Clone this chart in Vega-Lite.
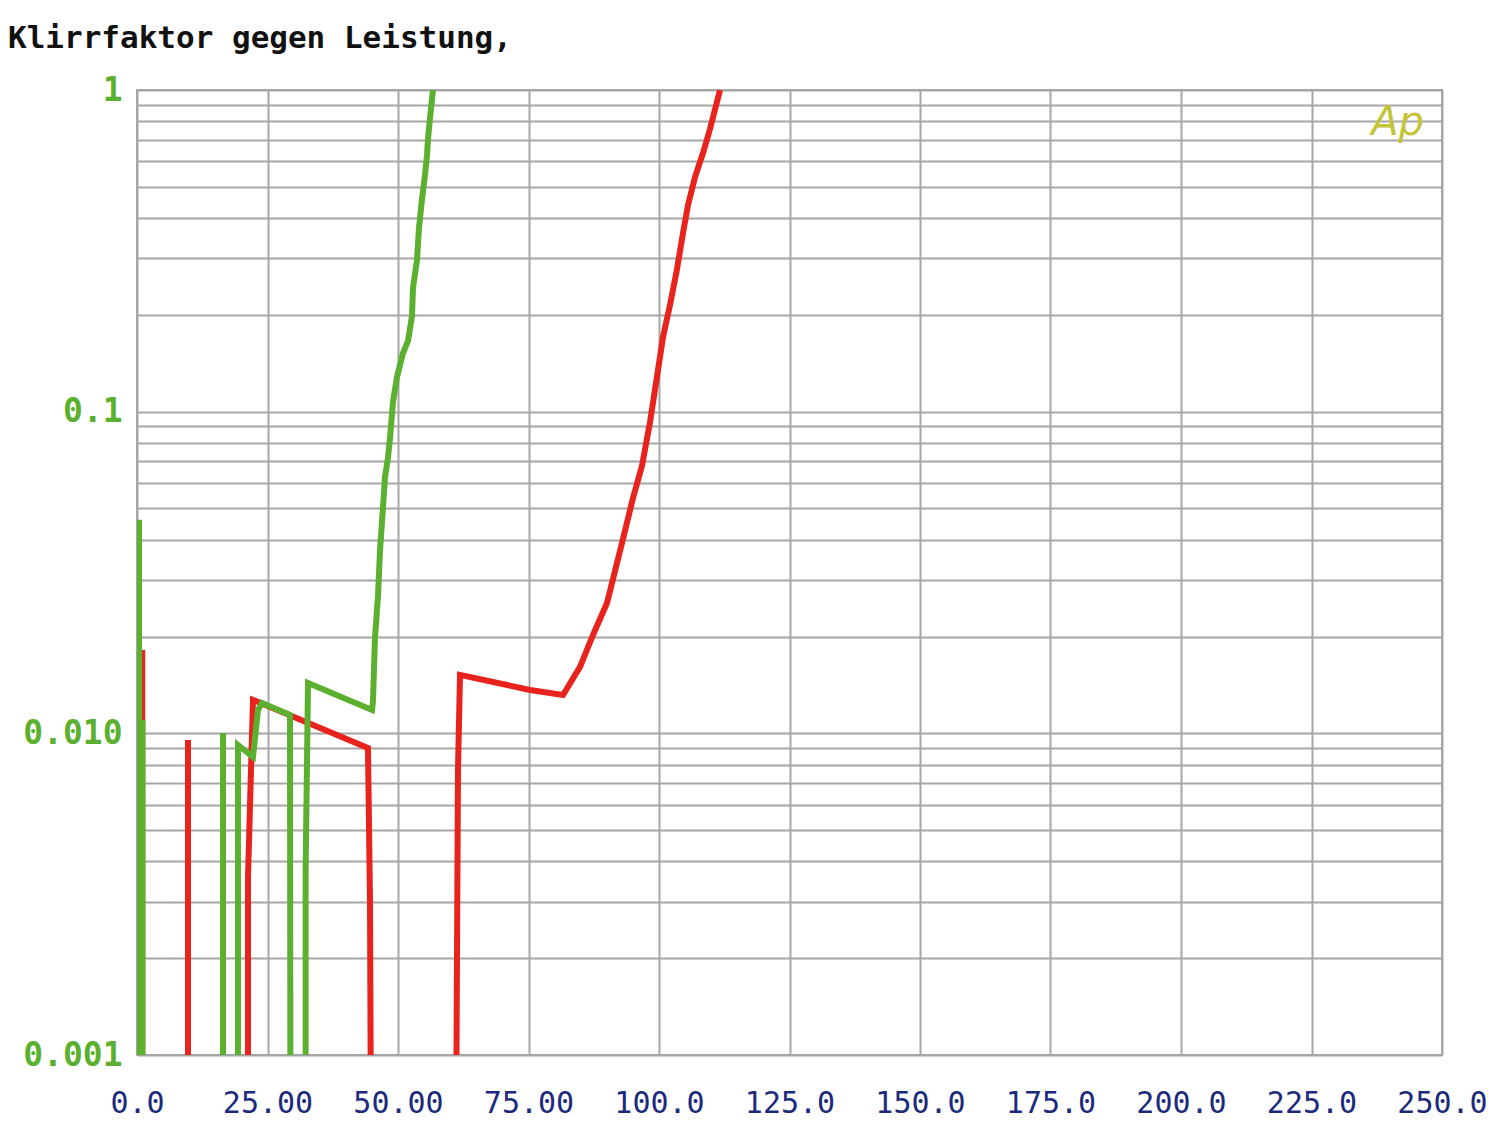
{
  "$schema": "https://vega.github.io/schema/vega-lite/v6.json",
  "width": 1305,
  "height": 965,
  "autosize": {"type": "none"},
  "padding": {"left": 137, "top": 90, "right": 58, "bottom": 70},
  "background": "white",
  "title": {
    "text": "Klirrfaktor gegen Leistung,",
    "anchor": "start",
    "frame": "group",
    "dx": -129,
    "dy": 45,
    "offset": 40,
    "baseline": "alphabetic",
    "font": "DejaVu Sans Mono",
    "fontSize": 31,
    "fontWeight": "bold",
    "color": "#111111"
  },
  "config": {
    "view": {"stroke": "#a6a6a6", "strokeWidth": 2},
    "axis": {"gridColor": "#a6a6a6", "gridWidth": 2, "gridOpacity": 1, "domain": false, "ticks": false, "tickSize": 0, "title": null}
  },
  "datasets": {
    "curves": [
      {"s": "red", "i": 0, "x": 1.0, "y": 0.01816},
      {"s": "red", "i": 1, "x": 1.0, "y": 0.0005},
      {"s": "red", "i": 2, "x": 9.77, "y": 0.0005},
      {"s": "red", "i": 3, "x": 9.77, "y": 0.00954},
      {"s": "red", "i": 4, "x": 9.77, "y": 0.0005},
      {"s": "red", "i": 5, "x": 21.26, "y": 0.0005},
      {"s": "red", "i": 6, "x": 21.26, "y": 0.00355},
      {"s": "red", "i": 7, "x": 22.22, "y": 0.0127},
      {"s": "red", "i": 8, "x": 44.25, "y": 0.00901},
      {"s": "red", "i": 9, "x": 44.64, "y": 0.00297},
      {"s": "red", "i": 10, "x": 44.83, "y": 0.0005},
      {"s": "red", "i": 11, "x": 61.1, "y": 0.0005},
      {"s": "red", "i": 12, "x": 61.3, "y": 0.001975},
      {"s": "red", "i": 13, "x": 61.49, "y": 0.00769},
      {"s": "red", "i": 14, "x": 61.88, "y": 0.0152},
      {"s": "red", "i": 15, "x": 75.29, "y": 0.01364},
      {"s": "red", "i": 16, "x": 81.61, "y": 0.01316},
      {"s": "red", "i": 17, "x": 84.87, "y": 0.01609},
      {"s": "red", "i": 18, "x": 87.36, "y": 0.02022},
      {"s": "red", "i": 19, "x": 90.04, "y": 0.02543},
      {"s": "red", "i": 20, "x": 91.57, "y": 0.03197},
      {"s": "red", "i": 21, "x": 93.1, "y": 0.04021},
      {"s": "red", "i": 22, "x": 95.02, "y": 0.05392},
      {"s": "red", "i": 23, "x": 96.74, "y": 0.06781},
      {"s": "red", "i": 24, "x": 98.28, "y": 0.0929},
      {"s": "red", "i": 25, "x": 99.81, "y": 0.1348},
      {"s": "red", "i": 26, "x": 100.77, "y": 0.1707},
      {"s": "red", "i": 27, "x": 102.11, "y": 0.2146},
      {"s": "red", "i": 28, "x": 103.45, "y": 0.2777},
      {"s": "red", "i": 29, "x": 104.6, "y": 0.3593},
      {"s": "red", "i": 30, "x": 105.56, "y": 0.439},
      {"s": "red", "i": 31, "x": 106.9, "y": 0.5365},
      {"s": "red", "i": 32, "x": 108.43, "y": 0.6369},
      {"s": "red", "i": 33, "x": 109.77, "y": 0.7563},
      {"s": "red", "i": 34, "x": 111.69, "y": 1.0},
      {"s": "green", "i": 0, "x": 0.4, "y": 0.0461},
      {"s": "green", "i": 1, "x": 0.4, "y": 0.0005},
      {"s": "green", "i": 2, "x": 1.05, "y": 0.0005},
      {"s": "green", "i": 3, "x": 1.05, "y": 0.011},
      {"s": "green", "i": 4, "x": 1.05, "y": 0.0005},
      {"s": "green", "i": 5, "x": 16.48, "y": 0.0005},
      {"s": "green", "i": 6, "x": 16.48, "y": 0.01003},
      {"s": "green", "i": 7, "x": 16.48, "y": 0.0005},
      {"s": "green", "i": 8, "x": 19.35, "y": 0.0005},
      {"s": "green", "i": 9, "x": 19.35, "y": 0.0092},
      {"s": "green", "i": 10, "x": 22.22, "y": 0.00844},
      {"s": "green", "i": 11, "x": 23.18, "y": 0.01182},
      {"s": "green", "i": 12, "x": 23.95, "y": 0.01243},
      {"s": "green", "i": 13, "x": 29.31, "y": 0.01141},
      {"s": "green", "i": 14, "x": 29.4, "y": 0.0005},
      {"s": "green", "i": 15, "x": 32.3, "y": 0.0005},
      {"s": "green", "i": 16, "x": 32.3, "y": 0.00371},
      {"s": "green", "i": 17, "x": 32.76, "y": 0.01434},
      {"s": "green", "i": 18, "x": 45.02, "y": 0.01182},
      {"s": "green", "i": 19, "x": 45.21, "y": 0.01261},
      {"s": "green", "i": 20, "x": 45.59, "y": 0.01979},
      {"s": "green", "i": 21, "x": 46.17, "y": 0.02674},
      {"s": "green", "i": 22, "x": 46.55, "y": 0.0369},
      {"s": "green", "i": 23, "x": 47.13, "y": 0.05056},
      {"s": "green", "i": 24, "x": 47.51, "y": 0.06266},
      {"s": "green", "i": 25, "x": 48.08, "y": 0.0718},
      {"s": "green", "i": 26, "x": 48.47, "y": 0.08286},
      {"s": "green", "i": 27, "x": 49.04, "y": 0.1072},
      {"s": "green", "i": 28, "x": 49.81, "y": 0.1282},
      {"s": "green", "i": 29, "x": 50.38, "y": 0.1397},
      {"s": "green", "i": 30, "x": 50.96, "y": 0.1522},
      {"s": "green", "i": 31, "x": 51.92, "y": 0.1659},
      {"s": "green", "i": 32, "x": 52.68, "y": 0.1983},
      {"s": "green", "i": 33, "x": 52.87, "y": 0.2424},
      {"s": "green", "i": 34, "x": 53.64, "y": 0.2961},
      {"s": "green", "i": 35, "x": 54.02, "y": 0.3724},
      {"s": "green", "i": 36, "x": 54.6, "y": 0.4583},
      {"s": "green", "i": 37, "x": 55.17, "y": 0.5441},
      {"s": "green", "i": 38, "x": 55.56, "y": 0.6279},
      {"s": "green", "i": 39, "x": 55.75, "y": 0.704},
      {"s": "green", "i": 40, "x": 56.13, "y": 0.8183},
      {"s": "green", "i": 41, "x": 56.7, "y": 1.0}
    ],
    "logo": [{"label": "Ap", "x": 241.5, "y": 0.79}]
  },
  "layer": [
    {
      "data": {"name": "curves"},
      "transform": [{"filter": "datum.s === 'red'"}],
      "mark": {"type": "line", "strokeWidth": 6, "clip": true, "strokeJoin": "miter", "strokeCap": "butt"},
      "encoding": {
        "x": {"field": "x", "type": "quantitative", "scale": {"domain": [0, 250], "nice": false, "zero": false},
          "axis": {"values": [0, 25, 50, 75, 100, 125, 150, 175, 200, 225, 250],
            "labelExpr": "datum.value == 0 ? '0.0' : (datum.value < 100 ? format(datum.value, '.2f') : format(datum.value, '.1f'))",
            "labelFont": "DejaVu Sans Mono", "labelFontSize": 30, "labelColor": "#1c2a7e", "labelPadding": 33, "labelFlush": false, "labelOverlap": false, "grid": true}},
        "y": {"field": "y", "type": "quantitative", "scale": {"type": "log", "domain": [0.001, 1], "nice": false},
          "axis": {"values": [0.001, 0.002, 0.003, 0.004, 0.005, 0.006, 0.007, 0.008, 0.009, 0.01, 0.02, 0.03, 0.04, 0.05, 0.06, 0.07, 0.08, 0.09, 0.1, 0.2, 0.3, 0.4, 0.5, 0.6, 0.7, 0.8, 0.9, 1],
            "labelExpr": "datum.value === 1 ? '1' : (datum.value === 0.1 ? '0.1' : (datum.value === 0.01 ? '0.010' : (datum.value === 0.001 ? '0.001' : '')))",
            "labelFont": "DejaVu Sans Mono", "labelFontSize": 33, "labelFontWeight": "bold", "labelColor": "#5cb030", "labelPadding": 15, "labelOverlap": false, "labelFlush": false, "grid": true}},
        "order": {"field": "i", "type": "quantitative"},
        "color": {"value": "#e8221c"}
      }
    },
    {
      "data": {"name": "curves"},
      "transform": [{"filter": "datum.s === 'green'"}],
      "mark": {"type": "line", "strokeWidth": 6, "clip": true, "strokeJoin": "miter", "strokeCap": "butt"},
      "encoding": {
        "x": {"field": "x", "type": "quantitative"},
        "y": {"field": "y", "type": "quantitative"},
        "order": {"field": "i", "type": "quantitative"},
        "color": {"value": "#5cb030"}
      }
    },
    {
      "data": {"name": "logo"},
      "mark": {"type": "text", "font": "DejaVu Sans", "fontSize": 40, "fontStyle": "italic", "color": "#c4c43a", "align": "center", "baseline": "middle"},
      "encoding": {
        "x": {"field": "x", "type": "quantitative"},
        "y": {"field": "y", "type": "quantitative"},
        "text": {"field": "label"}
      }
    }
  ]
}
